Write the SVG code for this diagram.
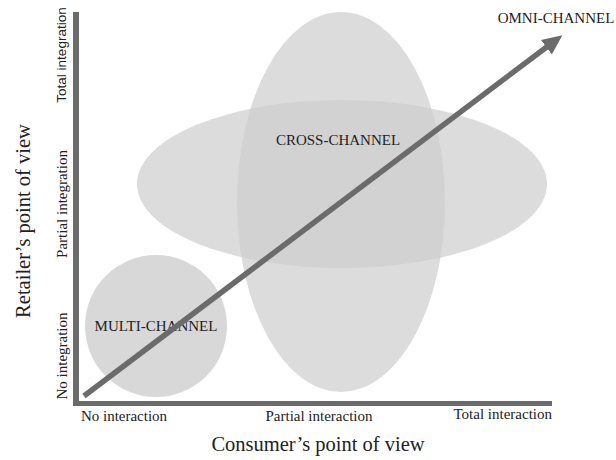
<svg xmlns="http://www.w3.org/2000/svg" width="616" height="460" viewBox="0 0 616 460">
<defs>
<style>
.t{font-family:"Liberation Serif","Times New Roman",serif;fill:#222}
.tick{font-size:15px}
.node{font-size:15px}
.title{font-size:20.5px}
.sans{font-family:"Liberation Sans",Arial,sans-serif;fill:#222}
.blob{fill:#cecece;fill-opacity:0.72}
.axis{fill:#6b6b6b}
.arrow{stroke:#6b6b6b;stroke-width:5.5;fill:none}
</style>
<marker id="head" markerUnits="userSpaceOnUse" markerWidth="20" markerHeight="20" refX="2" refY="9" orient="auto" viewBox="0 0 20 18">
<path d="M0,0 L20,9 L0,18 Z" fill="#6b6b6b"/>
</marker>
</defs>
<rect width="616" height="460" fill="#fff"/>
<g id="cross-channel">
<ellipse class="blob" cx="341" cy="202" rx="104" ry="190"/>
<ellipse class="blob" cx="342" cy="184" rx="205" ry="84"/>
<text class="t node" x="338" y="145" text-anchor="middle">CROSS-CHANNEL</text>
</g>
<g id="multi-channel">
<circle cx="156" cy="326" r="71" fill="#d8d8d8"/>
<text class="t node" x="156" y="331" text-anchor="middle">MULTI-CHANNEL</text>
</g>
<g id="axes">
<rect class="axis" x="73" y="12" width="6" height="394"/>
<rect class="axis" x="73" y="401" width="479" height="5"/>
<text class="t tick" x="124" y="421" text-anchor="middle">No interaction</text>
<text class="t tick" x="319" y="421" text-anchor="middle">Partial interaction</text>
<text class="t tick" x="552" y="419" text-anchor="end">Total interaction</text>
<text class="t title" x="318" y="451" text-anchor="middle">Consumer’s point of view</text>
<text class="sans" font-size="13.5" transform="translate(66,55) rotate(-90)" text-anchor="middle">Total integration</text>
<text class="t tick" transform="translate(67,204) rotate(-90)" text-anchor="middle">Partial integration</text>
<text class="t tick" transform="translate(67,356) rotate(-90)" text-anchor="middle">No integration</text>
<text class="t title" transform="translate(30,221) rotate(-90)" text-anchor="middle">Retailer’s point of view</text>
</g>
<g id="connectors">
<line class="arrow" x1="84" y1="396" x2="548" y2="46" marker-end="url(#head)"/>
</g>
<g id="omni-channel">
<text class="t node" x="556" y="23" text-anchor="middle">OMNI-CHANNEL</text>
</g>
</svg>
